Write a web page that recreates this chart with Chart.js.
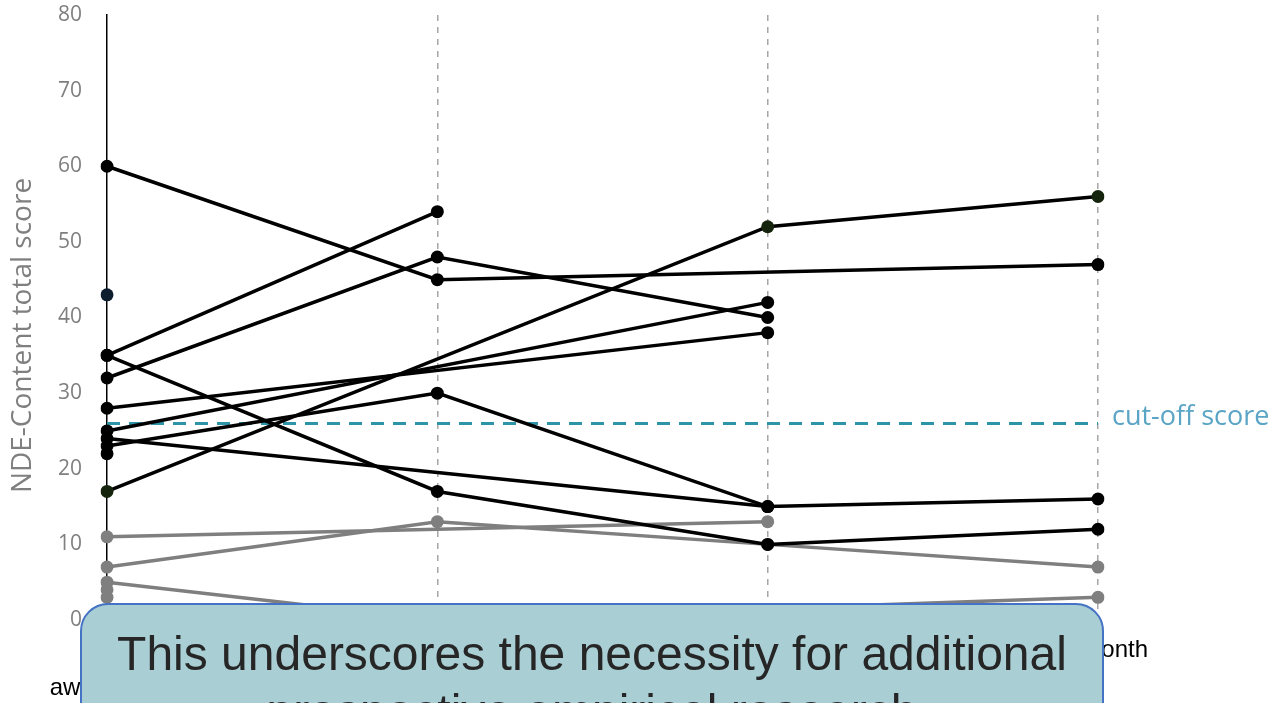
<!DOCTYPE html>
<html>
<head>
<meta charset="utf-8">
<script src="https://cdn.jsdelivr.net/npm/chart.js@4.4.1/dist/chart.umd.min.js"></script>
<style>
  html, body { margin: 0; padding: 0; background: #fff; }
  #wrap { position: relative; width: 1280px; height: 703px; overflow: hidden; }
  #note {
    position: absolute; left: 80px; top: 603px; width: 1024px; height: 140px;
    box-sizing: border-box; border: 2px solid #4472c4; border-radius: 28px;
    background: #a9cfd5; color: #262626; text-align: center;
    font-family: "Liberation Sans", Arial, sans-serif; font-size: 48px; line-height: 58px;
    padding-top: 20px;
  }
</style>
</head>
<body>
<div id="wrap">
  <canvas id="chart"></canvas>
  <div id="note">This underscores the necessity for additional<br>prospective empirical research</div>
</div>
<script>
// time points
const categories = [["After", "awakening"], "1 month", "6 month", "12 month"];
const cutOffScore = 26;

// NDE-C total score per patient, null = not measured
// above cut-off at some point (black)
const patient01 = [60, 45, null, 47];
const patient02 = [35, 54, null, null];
const patient03 = [32, 48, 40, null];
const patient04 = [17, null, 52, 56];
const patient05 = [28, null, 38, null];
const patient06 = [25, null, 42, null];
const patient07 = [35, 17, 10, 12];
const patient08 = [23, 30, 15, 16];
const patient09 = [24, null, 15, null];
const patient10 = [22, null, null, null];
const patient11 = [43, null, null, null];
// below cut-off (grey)
const patient12 = [11, null, 13, null];
const patient13 = [7, 13, 10, 7];
const patient14 = [5, 0, null, 3];
const patient15 = [4, null, null, null];
const patient16 = [3, null, null, null];

const blackPatients = [patient01, patient02, patient03, patient04, patient05, patient06,
  patient07, patient08, patient09, patient10, patient11];
const greyPatients = [patient12, patient13, patient14, patient15, patient16];

function pointColour(p) {
  if (p === patient11) return "#0f1e2e";
  if (p === patient04) return "#15240d";
  return "#000";
}

const datasets = [];
blackPatients.forEach(function (p) {
  datasets.push({
    data: p, borderColor: "#000", borderWidth: 3.5, spanGaps: true,
    pointRadius: 6.5, pointBackgroundColor: pointColour(p), pointBorderWidth: 0
  });
});
greyPatients.forEach(function (p) {
  datasets.push({
    data: p, borderColor: "#7f7f7f", borderWidth: 3.5, spanGaps: true,
    pointRadius: 6.5, pointBackgroundColor: "#7f7f7f", pointBorderWidth: 0
  });
});
datasets.push({
  data: categories.map(function () { return cutOffScore; }),
  borderColor: "#2e95a8", borderWidth: 3, borderDash: [13, 9], pointRadius: 0
});

// texts that sit outside the normal axis boxes
const extraText = {
  id: "extraText",
  afterDraw(chart) {
    const { ctx, chartArea, scales } = chart;
    const y = scales.y.getPixelForValue(cutOffScore);
    ctx.save();
    ctx.font = '27px "Open Sans"';
    ctx.fillStyle = "#5aa4c6";
    ctx.textAlign = "left";
    ctx.textBaseline = "middle";
    ctx.fillText("cut-off score", chartArea.right + 14, y - 6);

    ctx.translate(23, (chartArea.top + chartArea.bottom) / 2 + 18);
    ctx.rotate(-Math.PI / 2);
    ctx.font = '28px "Open Sans"';
    ctx.fillStyle = "#7f7f7f";
    ctx.textAlign = "center";
    ctx.fillText("NDE-Content total score", 0, 0);
    ctx.restore();
  }
};

const ctx = document.getElementById("chart").getContext("2d");
new Chart(ctx, {
  type: "line",
  data: { labels: categories, datasets: datasets },
  plugins: [extraText],
  options: {
    responsive: true,
    maintainAspectRatio: false,
    animation: false,
    layout: { padding: { top: 15, right: 182, left: 0, bottom: 0 } },
    plugins: { legend: { display: false }, tooltip: { enabled: false } },
    scales: {
      x: {
        ticks: {
          color: "#000", padding: 11, maxRotation: 0, autoSkip: false,
          font: { family: "Liberation Sans", size: 24, lineHeight: 1.58 }
        },
        grid: {
          color: function (c) { return c.index === 0 ? "rgba(0,0,0,0)" : "#a6a6a6"; },
          lineWidth: 1.5, drawTicks: false
        },
        border: { display: false, dash: [6, 6] },
        afterFit: function (s) { s.height = 83; s.paddingLeft = 0; s.paddingRight = 0; }
      },
      y: {
        min: 0, max: 80,
        ticks: { stepSize: 10, color: "#7f7f7f", padding: 25, font: { family: "Open Sans", size: 21 } },
        grid: { display: false, drawTicks: false },
        border: { display: true, color: "#000", width: 1.5 },
        afterFit: function (s) { s.width = 107; s.paddingTop = 0; s.paddingBottom = 0; }
      }
    }
  }
});
</script>
</body>
</html>
